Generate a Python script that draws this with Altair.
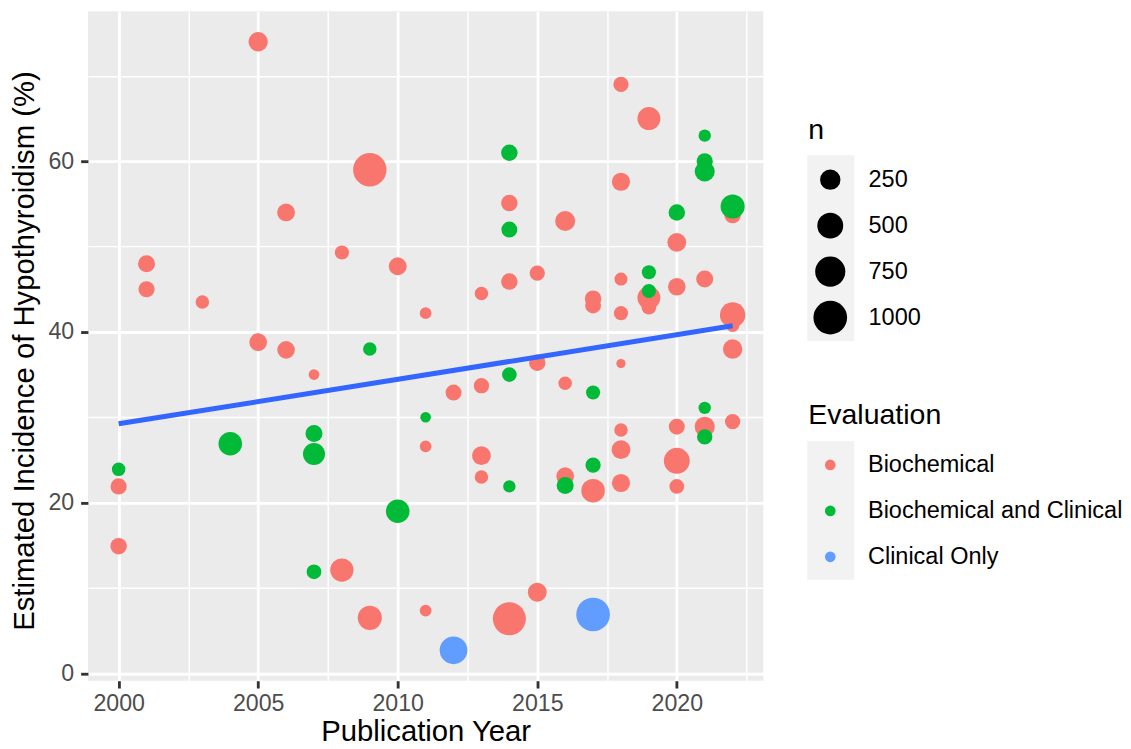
import altair as alt
import pandas as pd

eval_levels = ["Biochemical", "Biochemical and Clinical", "Clinical Only"]
eval_colors = ["#F8766D", "#00BA38", "#619CFF"]

# Biochemical
bio_year = [2005, 2009, 2006, 2008, 2001, 2001, 2003, 2010, 2011, 2005, 2006, 2007, 2011, 2000, 2000,
            2008, 2009, 2011, 2018, 2019, 2018, 2022, 2014, 2016, 2020, 2014, 2015, 2013, 2017, 2017,
            2018, 2018, 2019, 2019, 2020, 2021, 2022, 2022, 2022, 2015, 2018, 2013, 2012, 2016, 2020,
            2021, 2022, 2018, 2018, 2018, 2013, 2013, 2016, 2017, 2020, 2020, 2015, 2014]
bio_inc = [74.0, 59.0, 54.0, 49.3, 48.0, 45.0, 43.5, 47.7, 42.2, 38.8, 37.9, 35.0, 26.6, 21.9, 14.9,
           12.1, 6.5, 7.35, 69.0, 65.0, 57.6, 53.7, 55.1, 53.0, 50.5, 45.9, 46.9, 44.5, 43.9, 43.1,
           46.2, 42.2, 44.0, 42.9, 45.3, 46.2, 42.0, 40.8, 38.0, 36.4, 36.3, 33.7, 32.9, 34.0, 28.9,
           28.9, 29.5, 28.5, 26.2, 22.3, 25.5, 23.0, 23.1, 21.4, 24.9, 21.9, 9.5, 6.4]
bio_n = [217, 978, 167, 71, 142, 118, 59, 167, 31, 161, 160, 18, 31, 118, 127,
         371, 413, 31, 96, 359, 178, 130, 127, 239, 197, 127, 96, 59, 127, 111,
         50, 71, 359, 84, 161, 142, 475, 60, 217, 127, 8, 96, 111, 59, 111,
         239, 96, 59, 197, 178, 197, 59, 161, 387, 503, 84, 197, 951]

# Biochemical and Clinical
bc_year = [2009, 2011, 2004, 2007, 2007, 2000, 2010, 2007, 2021, 2014, 2021, 2021, 2022, 2014,
           2020, 2019, 2019, 2014, 2017, 2021, 2021, 2014, 2016, 2017]
bc_inc = [38.0, 30.0, 26.9, 28.1, 25.7, 23.9, 19.0, 11.9, 63.0, 61.0, 60.0, 58.8, 54.7, 52.0,
          54.0, 47.0, 44.8, 35.0, 32.9, 31.1, 27.7, 21.9, 22.0, 24.4]
bc_n = [59, 18, 387, 142, 320, 59, 387, 84, 40, 127, 118, 239, 413, 111,
        127, 71, 71, 84, 71, 40, 96, 40, 142, 96]

# Clinical Only
co_year = [2012, 2017]
co_inc = [2.7, 6.9]
co_n = [602, 997]

df = pd.DataFrame({
    "year": bio_year + bc_year + co_year,
    "inc": bio_inc + bc_inc + co_inc,
    "n": bio_n + bc_n + co_n,
    "Evaluation": [eval_levels[0]] * len(bio_year) + [eval_levels[1]] * len(bc_year) + [eval_levels[2]] * len(co_year),
})

FONT = "Liberation Sans"

x_vals = [2000, 2002.5, 2005, 2007.5, 2010, 2012.5, 2015, 2017.5, 2020, 2022.5]
y_vals = [0, 10, 20, 30, 40, 50, 60, 70]

x_enc = alt.X(
    "year:Q",
    scale=alt.Scale(domain=[1998.9, 2023.1], nice=False, zero=False),
    title="Publication Year",
    axis=alt.Axis(
        values=x_vals, format="d",
        labelExpr="datum.value % 5 === 0 ? datum.label : ''",
        labelFont=FONT, labelFontSize=23.2, labelColor="#4D4D4D", labelPadding=4,
        labelFlush=False, labelOverlap=False,
        tickColor="#333333", tickWidth=2.85, tickSize=7.3,
        tickOpacity={"condition": {"test": "datum.value % 5 === 0", "value": 1}, "value": 0},
        grid=True, gridColor="white",
        gridWidth={"condition": {"test": "datum.value % 5 === 0", "value": 2.85}, "value": 1.42},
        domain=False,
        titleFont=FONT, titleFontSize=29.3, titleFontWeight="normal", titleColor="black",
        titleBaseline="alphabetic", titleY=60,
    ),
)

y_enc = alt.Y(
    "inc:Q",
    scale=alt.Scale(domain=[-0.865, 77.565], nice=False, zero=False),
    title="Estimated Incidence of Hypothyroidism (%)",
    axis=alt.Axis(
        values=y_vals, format="d",
        labelExpr="datum.value % 20 === 0 ? datum.label : ''",
        labelFont=FONT, labelFontSize=23.2, labelColor="#4D4D4D", labelPadding=7,
        labelOverlap=False, labelFlush=False,
        tickColor="#333333", tickWidth=2.85, tickSize=7.3,
        tickOpacity={"condition": {"test": "datum.value % 20 === 0", "value": 1}, "value": 0},
        grid=True, gridColor="white",
        gridWidth={"condition": {"test": "datum.value % 20 === 0", "value": 2.85}, "value": 1.42},
        domain=False,
        titleFont=FONT, titleFontSize=29.3, titleFontWeight="normal", titleColor="black",
        titleAngle=270, titleBaseline="alphabetic", titleX=-54, titleY=339.5, titleAlign="center",
    ),
)

size_domain = [0, 10, 25, 50, 100, 250, 500, 750, 1000, 1100]
size_range = [50, 95, 128, 170, 240, 416, 671, 909, 1136, 1230]

points = alt.Chart(df).mark_circle(opacity=1, strokeWidth=0).encode(
    x=x_enc,
    y=y_enc,
    size=alt.Size(
        "n:Q",
        scale=alt.Scale(domain=size_domain, range=size_range),
        title="n",
        legend=alt.Legend(
            values=[250, 500, 750, 1000], format="d", orient="none", legendX=721, legendY=105,
            symbolFillColor="black", symbolStrokeWidth=0, symbolOpacity=1,
            symbolOffset=5, labelOffset=21.3, clipHeight=46, rowPadding=0,
            labelFont=FONT, labelFontSize=23.5, labelColor="black", labelLimit=0,
            titleFont=FONT, titleFontSize=28.5, titleFontWeight="normal", titleColor="black",
            titlePadding=12, padding=0, zindex=1,
        ),
    ),
    color=alt.Color(
        "Evaluation:N",
        scale=alt.Scale(domain=eval_levels, range=eval_colors),
        title="Evaluation",
        legend=alt.Legend(
            orient="none", legendX=721, legendY=390,
            symbolType="circle", symbolSize=113, symbolStrokeWidth=0, symbolOpacity=1,
            symbolOffset=10.25, labelOffset=26, clipHeight=46, rowPadding=0,
            labelFont=FONT, labelFontSize=23.5, labelColor="black", labelLimit=0,
            titleFont=FONT, titleFontSize=28.5, titleFontWeight="normal", titleColor="black",
            titlePadding=12.5, padding=0, zindex=1,
        ),
    ),
)

trend = alt.Chart(df).transform_regression("year", "inc").mark_line(
    color="#3366FF", strokeWidth=5
).encode(x=x_enc, y=y_enc)

key_df = pd.DataFrame({"k": [0]})
key_bg1 = alt.Chart(key_df).mark_rect(color="#F2F2F2").encode(
    x=alt.value(720), x2=alt.value(767), y=alt.value(144), y2=alt.value(330)
)
key_bg2 = alt.Chart(key_df).mark_rect(color="#F2F2F2").encode(
    x=alt.value(720), x2=alt.value(767), y=alt.value(430), y2=alt.value(569)
)

chart = alt.layer(key_bg1, key_bg2, points, trend).properties(
    width=676, height=670,
    padding={"left": 80, "top": 3, "right": 360, "bottom": 66},
    autosize=alt.AutoSizeParams(type="none"),
    background="white",
).configure_view(fill="#EBEBEB", stroke=None)

chart.save("out.html", embed_options={"renderer": "svg", "actions": False})
